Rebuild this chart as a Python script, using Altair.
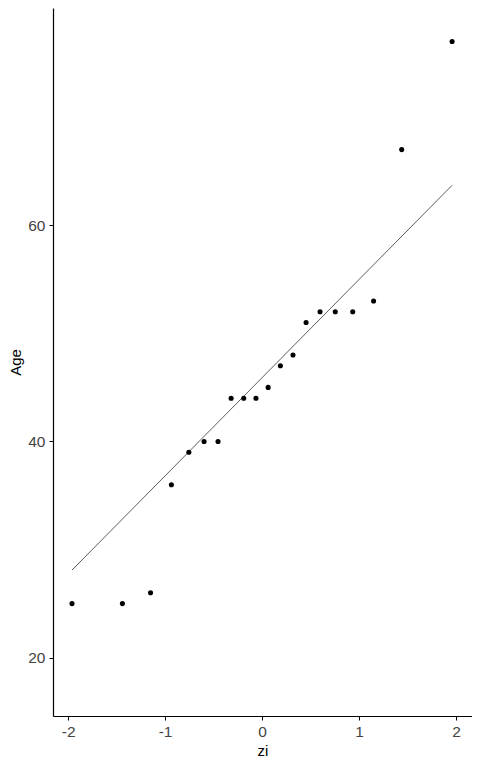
import altair as alt
import pandas as pd

# Theoretical normal quantiles (x) and sample ages (y)
zi = [-1.96, -1.44, -1.15, -0.935, -0.755, -0.598, -0.454, -0.319, -0.189, -0.063,
      0.063, 0.189, 0.319, 0.454, 0.598, 0.755, 0.935, 1.15, 1.44, 1.96]
age = [25, 25, 26, 36, 39, 40, 40, 44, 44, 44,
       45, 47, 48, 51, 52, 52, 52, 53, 67, 77]

# Reference (qq) line end points
line_zi = [-1.96, 1.96]
line_age = [28.1, 63.7]

pts = pd.DataFrame({"zi": zi, "Age": age})
ln = pd.DataFrame({"zi": line_zi, "Age": line_age})

xs = alt.Scale(domain=[-2.156, 2.165], nice=False, zero=False)
ys = alt.Scale(domain=[14.6, 80.1], nice=False, zero=False)

common = dict(grid=False, domainColor="black", domainWidth=1.2, tickColor="black",
              tickSize=4, labelFontSize=15.5, labelColor="#444444", labelPadding=4,
              titleFontSize=15, titleColor="black", titleFontWeight="normal",
              titlePadding=4, labelFont="Liberation Sans", titleFont="Liberation Sans",
              labelExpr="'' + datum.value")
xaxis = alt.Axis(values=[-2, -1, 0, 1, 2], **common)
yaxis = alt.Axis(values=[20, 40, 60], **common)

line = alt.Chart(ln).mark_line(color="#333333", strokeWidth=0.8).encode(
    x=alt.X("zi:Q", scale=xs, axis=xaxis, title="zi"),
    y=alt.Y("Age:Q", scale=ys, axis=yaxis, title="Age"),
)
points = alt.Chart(pts).mark_circle(color="black", size=26, opacity=1).encode(
    x=alt.X("zi:Q", scale=xs, axis=xaxis, title="zi"),
    y=alt.Y("Age:Q", scale=ys, axis=yaxis, title="Age"),
)

chart = (line + points).properties(
    width=419, height=708,
    autosize=alt.AutoSizeParams(type="none"),
    padding={"left": 45, "top": 0, "right": 0, "bottom": 44},
    view=alt.ViewBackground(strokeWidth=0, stroke="transparent"),
).configure_view(strokeWidth=0, stroke="transparent").configure_axis(
    grid=False
).configure(background="white")

chart.save("out.html", embed_options={"renderer": "svg", "actions": False})
